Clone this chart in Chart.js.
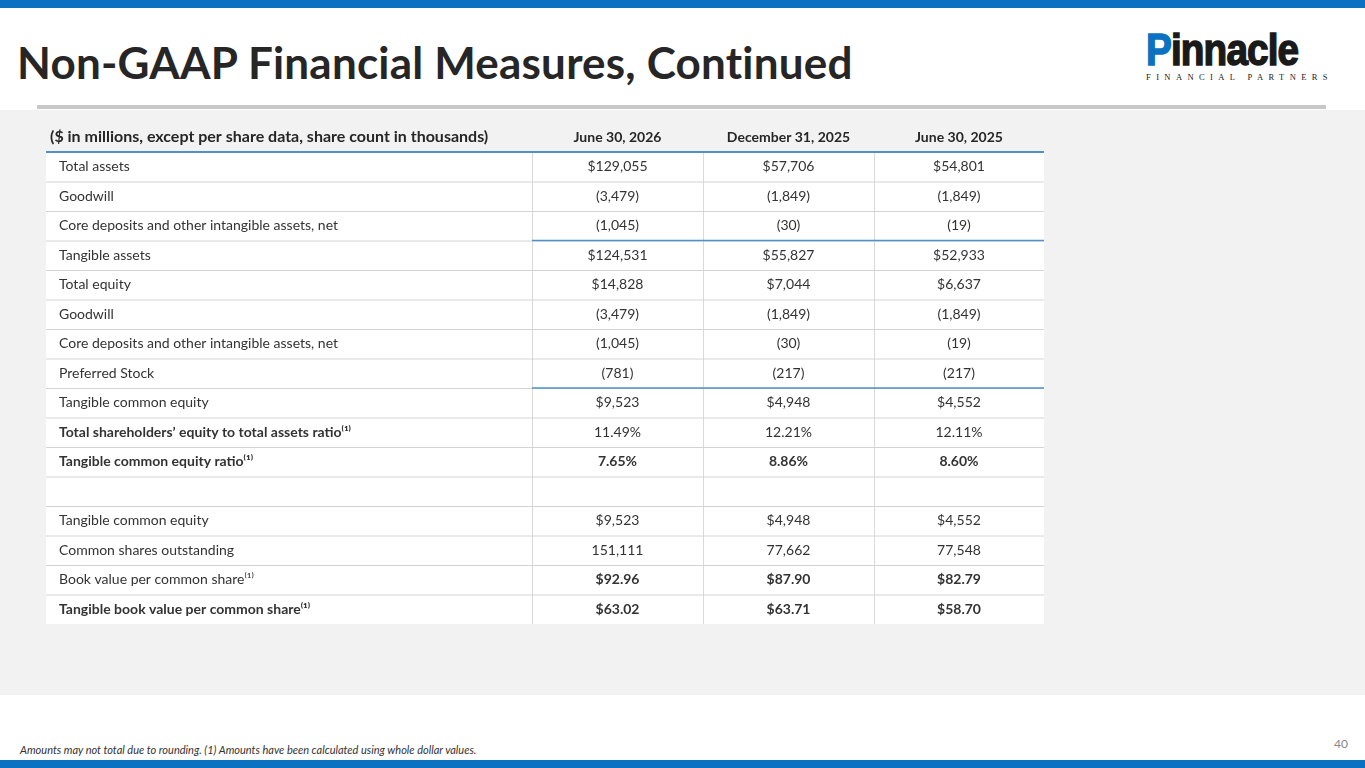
<!DOCTYPE html>
<html><head><meta charset="utf-8">
<script src="https://cdn.jsdelivr.net/npm/chart.js@4"></script>
<style>
body{margin:0;width:1365px;height:768px;position:relative;background:#fff;font-family:Lato,"Open Sans",sans-serif;overflow:hidden}
.bar{position:absolute;left:0;width:1365px;height:8px;background:#0b72c1}
#title{position:absolute;left:17px;top:36px;font-size:44px;font-weight:bold;color:#262626;letter-spacing:0.2px}
#rule{position:absolute;left:37px;top:105px;width:1289px;height:4px;background:#c8c8c8}
#gray{position:absolute;left:0;top:110px;width:1365px;height:585px;background:#f2f2f2}
#logo{position:absolute;left:1146px;top:30px;color:#1a1a1a}
#logo .p{font-size:44px;font-weight:900;letter-spacing:-1px;line-height:40px;font-family:"Liberation Sans",sans-serif;transform:scaleX(0.88);transform-origin:left;display:inline-block;-webkit-text-stroke:1.5px #1a1a1a}
#logo .f{font-size:8.5px;letter-spacing:5.4px;font-family:"Liberation Serif",serif;margin-top:2px}
#foot{position:absolute;left:20px;top:743px;font-size:11px;font-style:italic;color:#333}
#pg{position:absolute;left:1334px;top:736px;font-size:12px;color:#888}
#wrap{position:absolute;left:46px;top:122px;width:998px;height:502px}
</style></head><body>
<div class="bar" style="top:0"></div>
<div id="title">Non-GAAP Financial Measures, Continued</div>
<div id="logo"><div class="p"><span style="color:#0b72c1;-webkit-text-stroke-color:#0b72c1">P</span>innacle</div><div class="f">FINANCIAL PARTNERS</div></div>
<div id="rule"></div>
<div id="gray"></div>
<div id="wrap"><canvas id="c"></canvas></div>
<div id="foot">Amounts may not total due to rounding. (1) Amounts have been calculated using whole dollar values.</div>
<div id="pg">40</div>
<div class="bar" style="top:760px"></div>
<script>
const headerLabel = "($ in millions, except per share data, share count in thousands)";
const columns = ["June 30, 2026", "December 31, 2025", "June 30, 2025"];
const rows = ["Total assets","Goodwill","Core deposits and other intangible assets, net","Tangible assets","Total equity","Goodwill","Core deposits and other intangible assets, net","Preferred Stock","Tangible common equity","Total shareholders’ equity to total assets ratio⁽¹⁾","Tangible common equity ratio⁽¹⁾","","Tangible common equity","Common shares outstanding","Book value per common share⁽¹⁾","Tangible book value per common share⁽¹⁾"];
const jun2026 = ["$129,055","(3,479)","(1,045)","$124,531","$14,828","(3,479)","(1,045)","(781)","$9,523","11.49%","7.65%","","$9,523","151,111","$92.96","$63.02"];
const dec2025 = ["$57,706","(1,849)","(30)","$55,827","$7,044","(1,849)","(30)","(217)","$4,948","12.21%","8.86%","","$4,948","77,662","$87.90","$63.71"];
const jun2025 = ["$54,801","(1,849)","(19)","$52,933","$6,637","(1,849)","(19)","(217)","$4,552","12.11%","8.60%","","$4,552","77,548","$82.79","$58.70"];
const boldLabel = [9,10,15];
const boldValues = [10,14,15];
const blueBelow = [2,7];
const colEdges = [0, 486/998, 657/998, 828/998, 1];
const values = [jun2026, dec2025, jun2025];

const tablePlugin = {
  id:'table',
  afterDatasetsDraw(chart){
    const ctx = chart.ctx, xs = chart.scales.x, ys = chart.scales.y;
    const X = f => xs.getPixelForValue(f);
    const step = Math.abs(ys.getPixelForValue(1) - ys.getPixelForValue(0));
    ctx.save();
    ctx.strokeStyle = '#d9d9d9'; ctx.lineWidth = 1;
    for (let k=1;k<4;k++){ ctx.beginPath(); ctx.moveTo(X(colEdges[k])+0.5, ys.top); ctx.lineTo(X(colEdges[k])+0.5, ys.bottom); ctx.stroke(); }
    rows.forEach((r,i)=>{
      const cy = ys.getPixelForValue(i), bot = cy + step/2;
      if (i < rows.length-1){
        ctx.strokeStyle = '#d4d4d4'; ctx.beginPath(); ctx.moveTo(X(0), bot+0.5); ctx.lineTo(X(1), bot+0.5); ctx.stroke();
      }
      if (blueBelow.includes(i)){
        ctx.strokeStyle = '#4f8fcc'; ctx.lineWidth = 1.5; ctx.beginPath(); ctx.moveTo(X(colEdges[1]), bot); ctx.lineTo(X(1), bot); ctx.stroke(); ctx.lineWidth=1;
      }
      ctx.fillStyle = '#333'; ctx.textBaseline = 'middle';
      ctx.font = (boldLabel.includes(i)?'bold ':'') + '14px Lato';
      ctx.textAlign = 'left'; ctx.fillText(r, X(0)+13, cy);
      ctx.font = (boldValues.includes(i)?'bold ':'') + '14px Lato';
      ctx.textAlign = 'center';
      values.forEach((v,k)=> ctx.fillText(v[i], (X(colEdges[k+1])+X(colEdges[k+2]))/2, cy));
    });
    const hy = ys.top - 15;
    ctx.fillStyle = '#262626'; ctx.font = 'bold 16px Lato'; ctx.textAlign='left';
    ctx.fillText(headerLabel, X(0)+4, hy);
    ctx.font = 'bold 14px Lato'; ctx.textAlign='center';
    columns.forEach((c,k)=> ctx.fillText(c, (X(colEdges[k+1])+X(colEdges[k+2]))/2, hy));
    ctx.strokeStyle = '#4f8fcc'; ctx.lineWidth = 2;
    ctx.beginPath(); ctx.moveTo(X(0), ys.top); ctx.lineTo(X(1), ys.top); ctx.stroke();
    ctx.restore();
  }
};

new Chart(document.getElementById('c'), {
  type:'bar',
  data:{ labels: rows.map((r,i)=>i), datasets:[{ data: rows.map(()=>[0,1]), backgroundColor:'#ffffff', barPercentage:1, categoryPercentage:1, borderWidth:0 }]},
  options:{
    indexAxis:'y', responsive:true, maintainAspectRatio:false, animation:false,
    layout:{padding:{top:30,left:0,right:0,bottom:0}},
    plugins:{legend:{display:false}, tooltip:{enabled:false}},
    scales:{
      x:{type:'linear', min:0, max:1, display:false},
      y:{type:'category', display:false, offset:true}
    }
  },
  plugins:[tablePlugin]
});
</script>
</body></html>
